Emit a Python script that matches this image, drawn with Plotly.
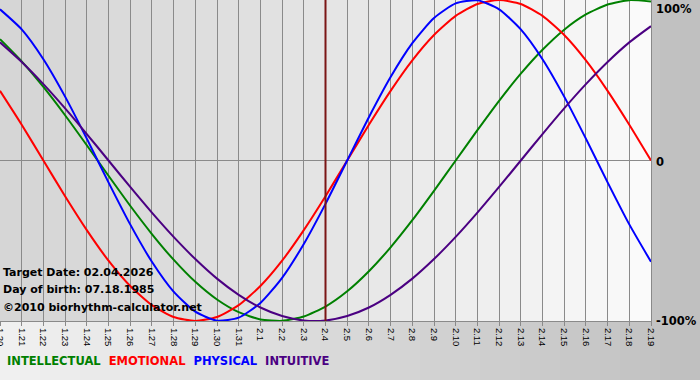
import plotly.graph_objects as go

# ---- data ----
dates = ["1.20", "1.21", "1.22", "1.23", "1.24", "1.25", "1.26", "1.27", "1.28", "1.29",
         "1.30", "1.31", "2.1", "2.2", "2.3", "2.4", "2.5", "2.6", "2.7", "2.8",
         "2.9", "2.10", "2.11", "2.12", "2.13", "2.14", "2.15", "2.16", "2.17", "2.18", "2.19"]
intellectual = [75.6, 61.8, 45.8, 28.2, 9.5, -9.5, -28.2, -45.8, -61.8, -75.6,
                -86.6, -94.5, -99.0, -99.9, -97.2, -91.0, -81.5, -69.0, -54.1, -37.2,
                -18.9, 0.0, 18.9, 37.2, 54.1, 69.0, 81.5, 91.0, 97.2, 99.9, 99.0]
emotional = [43.4, 22.3, 0.0, -22.3, -43.4, -62.4, -78.2, -90.1, -97.5, -100.0,
             -97.5, -90.1, -78.2, -62.4, -43.4, -22.3, 0.0, 22.3, 43.4, 62.4,
             78.2, 90.1, 97.5, 100.0, 97.5, 90.1, 78.2, 62.4, 43.4, 22.3, 0.0]
physical = [94.2, 81.7, 63.1, 39.8, 13.6, -13.6, -39.8, -63.1, -81.7, -94.2,
            -99.8, -97.9, -88.8, -73.1, -52.0, -27.0, 0.0, 27.0, 52.0, 73.1,
            88.8, 97.9, 99.8, 94.2, 81.7, 63.1, 39.8, 13.6, -13.6, -39.8, -63.1]
intuitive = [73.6, 61.4, 47.6, 32.5, 16.5, 0.0, -16.5, -32.5, -47.6, -61.4,
             -73.6, -83.7, -91.6, -96.9, -99.7, -99.7, -96.9, -91.6, -83.7, -73.6,
             -61.4, -47.6, -32.5, -16.5, 0.0, 16.5, 32.5, 47.6, 61.4, 73.6, 83.7]
series_names = ["INTELLECTUAL", "EMOTIONAL", "PHYSICAL", "INTUITIVE"]
target_date = "2.4"
info_lines = ["Target Date: 02.04.2026", "Day of birth: 07.18.1985", "\u00a92010 biorhythm-calculator.net"]
y_labels = [(100, "100%"), (0, "0"), (-100, "-100%")]

# ---- styles ----
colors = ["#008000", "#ff0000", "#0000ff", "#4b0082"]
FONT = "DejaVu Sans"
W, H = 700, 380
ML, MR, MT, MB = 0, 49, 0, 59
PW, PH = W - ML - MR, H - MT - MB


def lerp_gray(a, b, t):
    v = int(round(a + (b - a) * t))
    return f"rgb({v},{v},{v})"


fig = go.Figure()
for name, vals, col in zip(series_names, [intellectual, emotional, physical, intuitive], colors):
    fig.add_trace(go.Scatter(x=list(range(len(dates))), y=vals, mode="lines", name=name,
                             line=dict(color=col, width=2, shape="spline", smoothing=0.6),
                             hoverinfo="skip"))

shapes = []
# whole-figure background gradient (left light, right darker)
nb = 35
for i in range(nb):
    x0 = (i * W / nb - ML) / PW
    x1 = ((i + 1) * W / nb + 1 - ML) / PW
    shapes.append(dict(type="rect", xref="paper", yref="paper", x0=x0, x1=x1,
                       y0=-MB / PH - 0.01, y1=1.01, line=dict(width=0),
                       fillcolor=lerp_gray(240, 192, i / (nb - 1)), layer="below"))
# plot-area gradient (left darker, right light)
n = len(dates) - 1
for i in range(n):
    t = i / (n - 1)
    shapes.append(dict(type="rect", xref="paper", yref="paper",
                       x0=i / n, x1=min((i + 1) / n + 0.002, 1.0), y0=0, y1=1,
                       line=dict(width=0),
                       fillcolor=lerp_gray(214, 250, t ** 1.3), layer="below"))
# target date marker
ti = dates.index(target_date)
shapes.append(dict(type="line", xref="x", yref="paper", x0=ti, x1=ti, y0=0, y1=1,
                   line=dict(color="#7a1515", width=2), layer="above"))

annotations = []
for yv, txt in y_labels:
    annotations.append(dict(xref="paper", yref="y", x=1, y=yv, text=f"<b>{txt}</b>",
                            showarrow=False, xanchor="left",
                            yanchor="top" if yv == 100 else "middle",
                            xshift=3, yshift=(-1 if yv == 0 else 0),
                            font=dict(family=FONT, size=11.5, color="#000")))
info_y = [272, 289, 307]
for txt, py in zip(info_lines, info_y):
    annotations.append(dict(xref="paper", yref="paper", x=0, y=(PH - py) / PH,
                            text=f"<b>{txt}</b>", showarrow=False, xanchor="left",
                            yanchor="middle", xshift=1,
                            font=dict(family=FONT, size=11, color="#000")))
legend_html = "  ".join(f"<span style='color:{c}'>{nm}</span>" for nm, c in zip(series_names, colors))
annotations.append(dict(xref="paper", yref="paper", x=0, y=(PH - 361) / PH,
                        text=f"<b>{legend_html}</b>", showarrow=False, xanchor="left",
                        yanchor="middle", xshift=5,
                        font=dict(family=FONT, size=11.5)))

fig.update_layout(
    width=W, height=H, margin=dict(l=ML, r=MR, t=MT, b=MB, autoexpand=False),
    paper_bgcolor="#d8d8d8", plot_bgcolor="rgba(0,0,0,0)",
    showlegend=False, shapes=shapes, annotations=annotations,
    xaxis=dict(range=[0, n], tickmode="array", tickvals=list(range(len(dates))), ticktext=dates,
               tickangle=90, tickfont=dict(family="Liberation Sans", size=9.5, color="#000"),
               ticklabeloverflow="allow", automargin=False,
               showgrid=True, gridcolor="#8a8a8a", gridwidth=1, ticks="outside", ticklen=4,
               tickcolor="#8a8a8a", showline=True, linecolor="#8a8a8a", mirror=True,
               zeroline=False, fixedrange=True),
    yaxis=dict(range=[-100, 100], tickvals=[-100, 0, 100], showticklabels=False,
               automargin=False,
               showgrid=True, gridcolor="#8a8a8a", gridwidth=1, zeroline=False,
               showline=True, linecolor="#8a8a8a", mirror=True, fixedrange=True),
)

fig.write_html("out.html", config={"displayModeBar": False},
               post_script="document.body.style.margin='0';document.body.style.overflow='hidden';")
